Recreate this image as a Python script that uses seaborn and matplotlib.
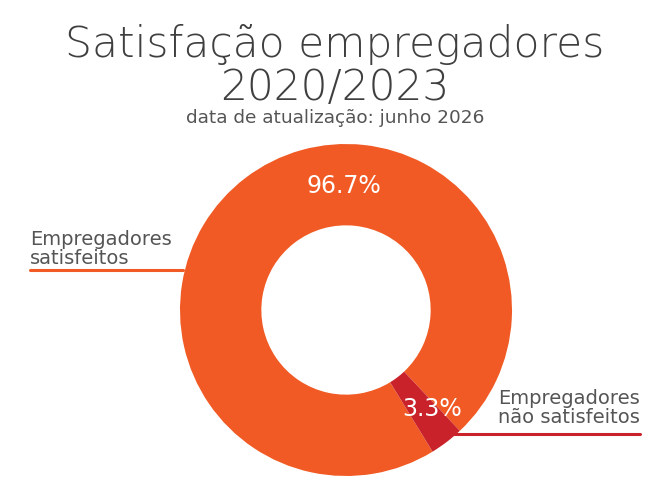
import numpy as np
import seaborn as sns
import matplotlib
matplotlib.use('Agg')
import matplotlib.pyplot as plt
from matplotlib.lines import Line2D

categories = ["Empregadores\nsatisfeitos", "Empregadores\nnão satisfeitos"]
values = [96.7, 3.3]
colors = ["#F15A24", "#C9222A"]

title = "Satisfação empregadores\n2020/2023"
subtitle = "data de atualização: junho 2026"

sns.set_theme(style="white")
plt.rcParams['font.family'] = ['DejaVu Sans']

W, H = 650, 500
fig = plt.figure(figsize=(W / 100, H / 100), dpi=100)
fig.patch.set_facecolor("white")

# centro e raio do donut em pixels
cx, cy, r = 346, 310, 166
ax = fig.add_axes([(cx - r) / W, (H - cy - r) / H, 2 * r / W, 2 * r / H])
wedges, _ = ax.pie(values, colors=colors, startangle=-46.7, counterclock=True,
                   wedgeprops=dict(width=0.49, edgecolor="none"), radius=1)
ax.set_xlim(-1, 1)
ax.set_ylim(-1, 1)
ax.set_aspect("equal")
ax.axis("off")

# rótulos de percentagem
pct_pos = [(91, 0.745), (-49, 0.79)]
for v, (ang, rr) in zip(values, pct_pos):
    a = np.deg2rad(ang)
    ax.text(rr * np.cos(a), rr * np.sin(a), f"{v:.1f}%", color="white",
            fontsize=17, ha="center", va="center")

grey = "#555555"
fig.text(335 / W, 1 - 66 / H, title, ha="center", va="center", fontsize=30.5,
         color="#3f3f3f", linespacing=1.04, fontweight="light")
fig.text(335 / W, 1 - 118 / H, subtitle, ha="center", va="center",
         fontsize=13.3, color=grey)

# rótulos externos com sublinhado
fig.text(30 / W, 1 - 249 / H, categories[0], ha="left", va="center",
         fontsize=14, color=grey, linespacing=0.95)
fig.add_artist(Line2D([30 / W, 183 / W], [1 - 270 / H, 1 - 270 / H],
                      color=colors[0], lw=2.2))
fig.text(640 / W, 1 - 408 / H, categories[1], ha="right", va="center",
         fontsize=14, color=grey, linespacing=0.95, multialignment="right")
fig.add_artist(Line2D([447 / W, 640 / W], [1 - 434 / H, 1 - 434 / H],
                      color=colors[1], lw=2.2))

fig.savefig("out.png", dpi=100)
